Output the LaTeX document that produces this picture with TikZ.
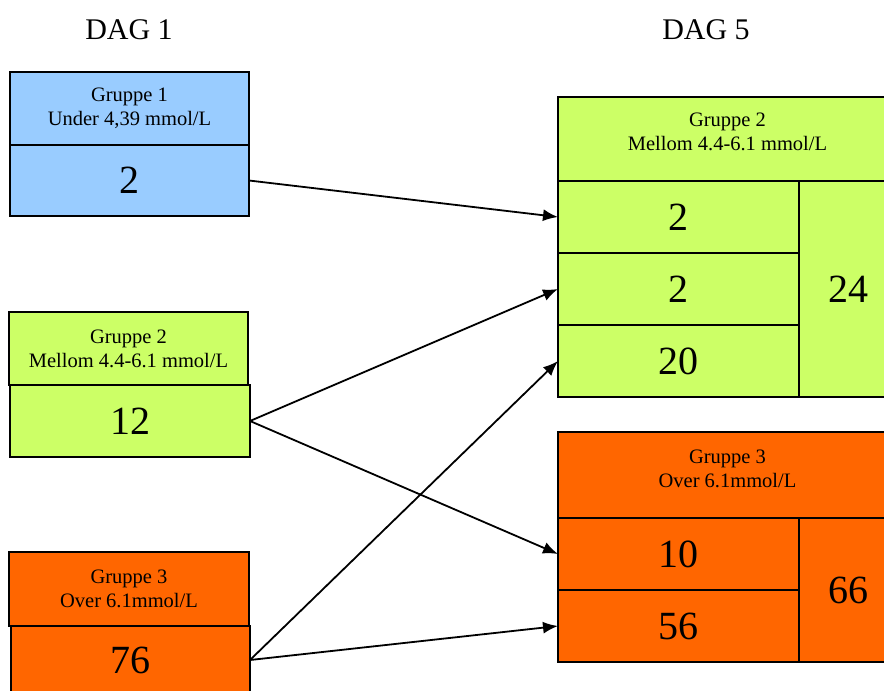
\documentclass[tikz,border=0pt]{standalone}
\usepackage{fontspec}
\setmainfont{Liberation Serif}
\usetikzlibrary{arrows.meta}
\definecolor{cblue}{HTML}{99CCFF}
\definecolor{cgreen}{HTML}{CCFF66}
\definecolor{corange}{HTML}{FF6600}
\begin{document}
\begin{tikzpicture}[x=1pt,y=-1pt,
  cell/.style={draw=black,line width=1.8pt,inner sep=0pt,minimum width=#1,outer sep=0pt},
  hdtext/.style={font=\rmfamily\fontsize{20.5}{24}\selectfont,align=center,inner sep=0pt},
  numtext/.style={font=\rmfamily\fontsize{40}{44}\selectfont},
  dagtext/.style={font=\rmfamily\fontsize{30}{34}\selectfont,inner sep=0pt},
  flow/.style={line width=1.8pt,-{Latex[length=15pt,width=12pt]}}]
\useasboundingbox (0,0) rectangle (884,691);
% titles
\node[dagtext] (d1) at (129,30) {DAG 1};
\node[dagtext] (d5) at (706,30) {DAG 5};
% left boxes
\node[cell=239pt,minimum height=73pt,fill=cblue,hdtext] (g1h) at (129.5,108.5) {Gruppe 1\\Under 4,39 mmol/L};
\node[cell=239pt,minimum height=71pt,fill=cblue,numtext] (g1b) at (129.5,180.5) {2};
\node[cell=239pt,minimum height=73pt,fill=cgreen,hdtext] (g2h) at (128.5,348.5) {Gruppe 2\\Mellom 4.4-6.1 mmol/L};
\node[cell=240pt,minimum height=72pt,fill=cgreen,numtext] (g2b) at (130,421) {12};
\node[cell=240pt,minimum height=74pt,fill=corange,hdtext] (g3h) at (129,589) {Gruppe 3\\Over 6.1mmol/L};
\node[cell=239pt,minimum height=68pt,fill=corange,numtext] (g3b) at (130.5,660) {76};
% right group 2
\node[cell=339pt,minimum height=84pt,fill=cgreen] (r2h) at (727.5,139) {};
\node[hdtext] (r2ht) at (727.5,132) {Gruppe 2\\Mellom 4.4-6.1 mmol/L};
\node[cell=241pt,minimum height=72pt,fill=cgreen,numtext] (r2a) at (678.5,217) {2};
\node[cell=241pt,minimum height=72pt,fill=cgreen,numtext] (r2b) at (678.5,289) {2};
\node[cell=241pt,minimum height=72pt,fill=cgreen,numtext] (r2c) at (678.5,361) {20};
\node[cell=98pt,minimum height=216pt,fill=cgreen,numtext] (r2t) at (848,289) {24};
% right group 3
\node[cell=339pt,minimum height=86pt,fill=corange] (r3h) at (727.5,475) {};
\node[hdtext] (r3ht) at (727.5,469) {Gruppe 3\\Over 6.1mmol/L};
\node[cell=241pt,minimum height=72pt,fill=corange,numtext] (r3a) at (678.5,554) {10};
\node[cell=241pt,minimum height=72pt,fill=corange,numtext] (r3b) at (678.5,626) {56};
\node[cell=98pt,minimum height=144pt,fill=corange,numtext] (r3t) at (848,590) {66};
% arrows
\draw[flow] (g1b.east) -- (r2a.west);
\draw[flow] (g2b.east) -- (r2b.west);
\draw[flow] (g2b.east) -- (r3a.west);
\draw[flow] (g3b.east) -- (r2c.west);
\draw[flow] (g3b.east) -- (r3b.west);
\end{tikzpicture}
\end{document}
